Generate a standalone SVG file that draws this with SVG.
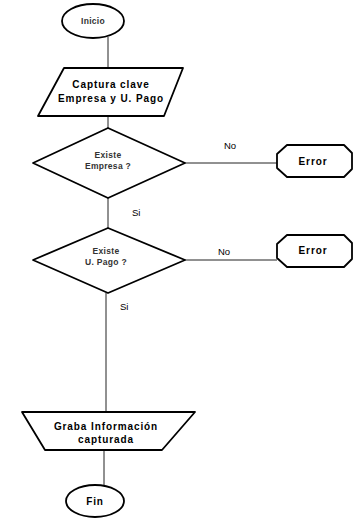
<svg xmlns="http://www.w3.org/2000/svg" width="363" height="519" viewBox="0 0 363 519">
  <style>
    .shape { fill: #fff; stroke: #000; stroke-width: 1.8; stroke-linejoin: round; }
    .conn { fill: none; stroke: #222; stroke-width: 1; }
    .lbl { font-family: "Liberation Sans", Arial, sans-serif; fill: #000; text-anchor: middle; }
    .box { font-size: 10px; font-weight: bold; letter-spacing: 0.9px; }
    .dia { font-size: 8.5px; font-weight: bold; fill: #333; letter-spacing: 0.3px; }
    .edge { font-size: 9.5px; text-anchor: start; }
  </style>

  <g id="connectors">
    <line class="conn" x1="108" y1="37" x2="108" y2="68"/>
    <line class="conn" x1="108" y1="116" x2="108" y2="128"/>
    <line class="conn" x1="108" y1="198" x2="108" y2="228"/>
    <line class="conn" x1="185" y1="163" x2="277" y2="163"/>
    <line class="conn" x1="185" y1="260" x2="277" y2="260"/>
    <line class="conn" x1="106" y1="293" x2="106" y2="412"/>
    <line class="conn" x1="104" y1="450" x2="104" y2="485"/>
    <text class="lbl edge" x="224" y="149" fill="#555">No</text>
    <text class="lbl edge" x="132" y="216">Si</text>
    <text class="lbl edge" x="218" y="255">No</text>
    <text class="lbl edge" x="120" y="310">Si</text>
  </g>

  <g id="inicio">
    <ellipse class="shape" cx="93" cy="21" rx="31" ry="17"/>
    <text class="lbl dia" x="93" y="24">Inicio</text>
  </g>

  <g id="captura">
    <polygon class="shape" points="64,68 183,68 164,116 38,116"/>
    <text class="lbl box" x="111" y="88">Captura clave</text>
    <text class="lbl box" x="111" y="102">Empresa y U. Pago</text>
  </g>

  <g id="existe-empresa">
    <polygon class="shape" points="108,128 185,163 108,198 33,163"/>
    <text class="lbl dia" x="108" y="158">Existe</text>
    <text class="lbl dia" x="108" y="169">Empresa  ?</text>
  </g>

  <g id="error-empresa">
    <polygon class="shape" points="287,145 344,145 352,153 352,169 344,177 287,177 277,168 277,154"/>
    <text class="lbl box" x="313" y="165">Error</text>
  </g>

  <g id="existe-pago">
    <polygon class="shape" points="108,228 185,260 108,293 33,260"/>
    <text class="lbl dia" x="106" y="254">Existe</text>
    <text class="lbl dia" x="106" y="265">U. Pago  ?</text>
  </g>

  <g id="error-pago">
    <polygon class="shape" points="287,235 344,235 352,243 352,259 344,267 287,267 277,258 277,244"/>
    <text class="lbl box" x="313" y="254">Error</text>
  </g>

  <g id="graba">
    <polygon class="shape" points="22,412 195,412 162,450 45,450"/>
    <text class="lbl box" x="106" y="430">Graba Información</text>
    <text class="lbl box" x="106" y="443">capturada</text>
  </g>

  <g id="fin">
    <ellipse class="shape" cx="95" cy="501" rx="29" ry="16"/>
    <text class="lbl box" x="95" y="505">Fin</text>
  </g>
</svg>
